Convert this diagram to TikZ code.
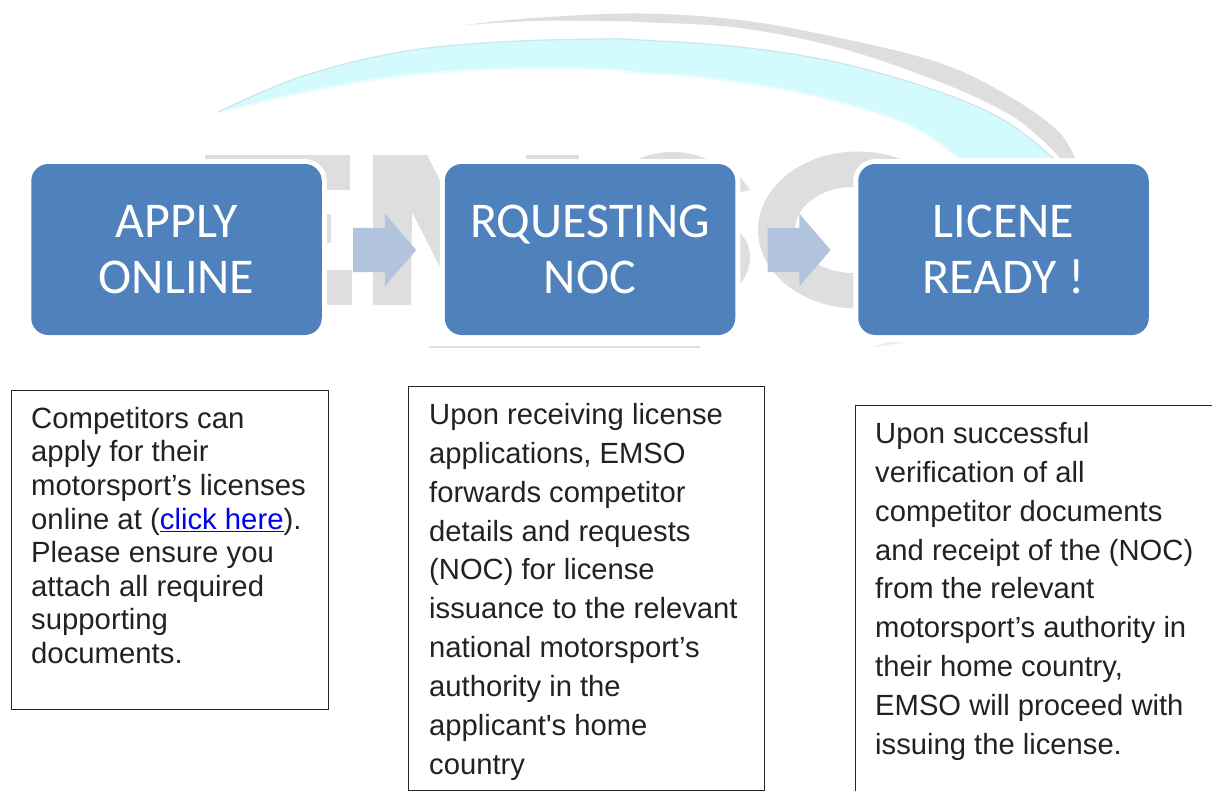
\documentclass[tikz,border=0pt]{standalone}
\usepackage{fontspec}
\newfontfamily\bodyfont{Liberation Sans}
\newfontfamily\boxfont{Carlito}
\usetikzlibrary{shapes.arrows,calc}
\definecolor{boxblue}{HTML}{4F81BD}
\definecolor{arrowblue}{HTML}{B2C3DE}
\definecolor{markgray}{HTML}{DFDEDE}
\definecolor{markcyan}{HTML}{D3FBFE}
\definecolor{markedge}{HTML}{CBE6EC}
\definecolor{linkblue}{HTML}{0000EE}
\definecolor{bodytext}{HTML}{222222}
\newcommand{\linktext}[1]{\textcolor{linkblue}{#1}}
\tikzset{
  x=1pt,y=-1pt,
  flowbox/.style={fill=boxblue,rounded corners=17pt,minimum width=290.5pt,minimum height=171pt,inner sep=0pt,
    text=white,align=center,font=\boxfont\fontsize{50}{56}\selectfont,
    execute at end node={\vspace{2pt}},
    preaction={draw=white,line width=10pt}},
  flowarrow/.style={single arrow,fill=arrowblue,minimum height=63pt,
    single arrow head extend=14pt,single arrow tip angle=98.5,inner sep=0pt,anchor=tail},
  panel/.style={draw=black!85,line width=1pt,inner sep=0pt,anchor=north west},
  panelone/.style={anchor=north west,inner sep=0pt,align=left,text=bodytext,font=\bodyfont\fontsize{29.3}{33.6}\selectfont},
  paneltwo/.style={anchor=north west,inner sep=0pt,align=left,text=bodytext,font=\bodyfont\fontsize{29.2}{38.9}\selectfont},
  lettermark/.style={fill=markgray,draw=none},
}
\begin{document}
\begin{tikzpicture}
\useasboundingbox (0,0) rectangle (1212,790);
% watermark: swoosh
\fill[markgray] plot[smooth,tension=0.6] coordinates {(465,25) (533,18) (640,13.5) (740,20) (840,38) (940,63) (1007,95) (1057,130) (1075,158)}
  -- plot[smooth,tension=0.6] coordinates {(1060,158) (1040,138) (1007,113) (940,82) (840,48) (740,28) (640,22) (600,21) (533,21) (465,25)} -- cycle;
\draw[markcyan!40,line width=3pt] plot[smooth,tension=0.6] coordinates {(960,159) (907,124) (807,94) (707,78) (640,73) (600,69) (500,69) (400,76) (300,93) (218,112)};
\fill[markcyan] plot[smooth,tension=0.6] coordinates {(218,112) (300,77) (400,52) (500,42) (600,39) (640,40) (740,47) (840,63) (940,92) (1007,122) (1053,158)}
  -- plot[smooth,tension=0.6] coordinates {(960,158) (907,123) (807,93) (707,77) (640,72) (600,68) (500,68) (400,75) (300,92) (218,112)} -- cycle;
\draw[markedge,line width=1.2pt] plot[smooth,tension=0.6] coordinates {(218,112) (300,77) (400,52) (500,42) (600,39) (640,40) (740,47) (840,63) (940,92) (1007,122) (1053,158)};
% watermark: letters
\fill[lettermark] (205,155) rectangle (350,190);
\fill[lettermark] (327,214) rectangle (331,243);
\fill[lettermark] (300,270) rectangle (352,305);
\fill[lettermark] (373,155) -- (427,155) -- (445,190) -- (445,277) -- (412,212) -- (411,305) -- (373,305) -- cycle;
\fill[lettermark] (526,155) rectangle (579,170);
\fill[lettermark] (620,170) .. controls (650,146) and (695,146) .. (725,170) -- cycle;
\fill[lettermark] (730,170) -- (740,177) -- (750,190) -- (730,194) -- cycle;
\fill[lettermark] (730,225) .. controls (745,235) and (750,245) .. (750,257) .. controls (750,270) and (745,280) .. (730,295) -- cycle;
\fill[lettermark,even odd rule] (858,230) ellipse[x radius=100pt,y radius=78.5pt] (853,230) ellipse[x radius=58pt,y radius=43pt];
\fill[markgray] (429,346.2) rectangle (700,348.4);
\fill[markgray!60] (873,347) .. controls (885,342) and (895,342) .. (907,342.5) .. controls (895,344) and (885,345) .. (873,347) -- cycle;
% flow
\node[flowbox] (apply) at (176.5,249.5) {APPLY\\ONLINE};
\node[flowbox] (noc) at (590,249.5) {RQUESTING\\NOC};
\node[flowbox] (ready) at (1003.5,249.5) {LICENE\\READY !};
\node[flowarrow] (arrowa) at ($(apply.east)+(31,0.5)$) {\rule{0pt}{44pt}};
\node[flowarrow] (arrowb) at ($(noc.east)+(32,0.5)$) {\rule{0pt}{44pt}};
% panels
\node[panel,minimum width=317.5pt,minimum height=319pt] (pone) at (10.8,389.8) {};
\node[panel,minimum width=355.5pt,minimum height=404pt] (ptwo) at (408,386) {};
\node[panel,minimum width=400pt,minimum height=420pt] (pthree) at (854.8,404.8) {};
\node[panelone] (tone) at (31,406.8) {Competitors can\\apply for their\\motorsport’s licenses\\online at (\linktext{\underline{click here}}).\\Please ensure you\\attach all required\\supporting\\documents.};
\node[paneltwo] (ttwo) at (429,403) {Upon receiving license\\applications, EMSO\\forwards competitor\\details and requests\\(NOC) for license\\issuance to the relevant\\national motorsport’s\\authority in the\\applicant's home\\country};
\node[paneltwo] (tthree) at (875,422) {Upon successful\\verification of all\\competitor documents\\and receipt of the (NOC)\\from the relevant\\motorsport’s authority in\\their home country,\\EMSO will proceed with\\issuing the license.};
\end{tikzpicture}
\end{document}
